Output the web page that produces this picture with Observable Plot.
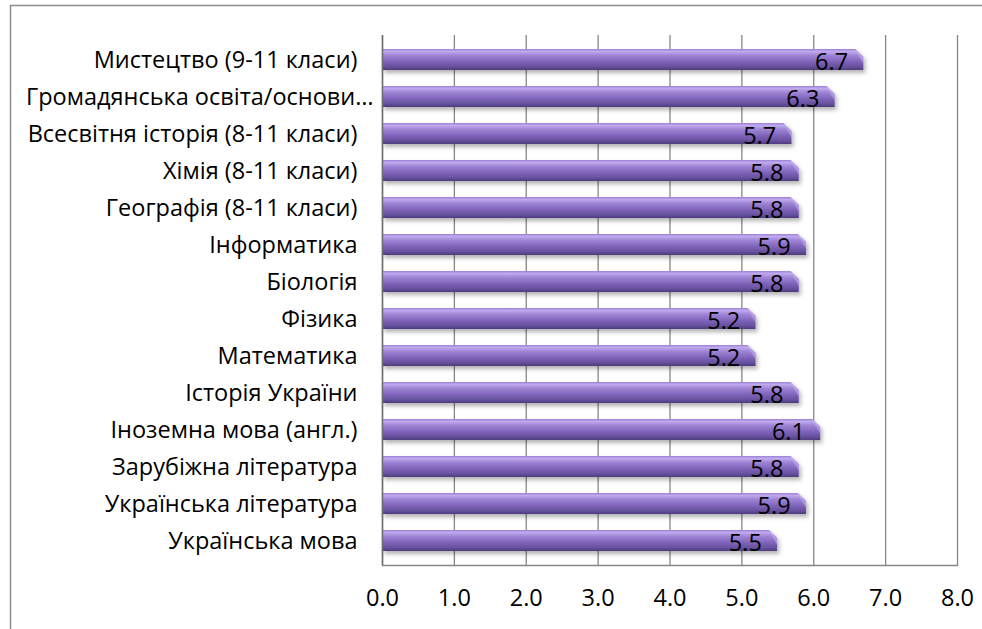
<!DOCTYPE html>
<html>
<head>
<meta charset="utf-8">
<script src="https://cdn.jsdelivr.net/npm/d3@7"></script>
<script src="https://cdn.jsdelivr.net/npm/@observablehq/plot@0.6"></script>
<style>
  html, body { margin: 0; padding: 0; background: #fff; }
  #chart { width: 982px; height: 629px; }
</style>
</head>
<body>
<div id="chart"></div>
<script>
const subjects = [
  "Мистецтво (9-11 класи)",
  "Громадянська освіта/основи…",
  "Всесвітня історія (8-11 класи)",
  "Хімія (8-11 класи)",
  "Географія (8-11 класи)",
  "Інформатика",
  "Біологія",
  "Фізика",
  "Математика",
  "Історія України",
  "Іноземна мова (англ.)",
  "Зарубіжна література",
  "Українська література",
  "Українська мова"
];
const scores = [6.7, 6.3, 5.7, 5.8, 5.8, 5.9, 5.8, 5.2, 5.2, 5.8, 6.1, 5.8, 5.9, 5.5];
const xTicks = [0, 1, 2, 3, 4, 5, 6, 7, 8];

const data = subjects.map((s, i) => ({subject: s, value: scores[i]}));
const truncated = subjects.filter(s => s.endsWith("…"));
const regular = subjects.filter(s => !s.endsWith("…"));
const font = "'Open Sans', sans-serif";
const fs = 23.5;
const capW = 0.15;

const chart = Plot.plot({
  width: 982,
  height: 629,
  marginLeft: 382,
  marginRight: 25,
  marginTop: 35,
  marginBottom: 64,
  style: {fontFamily: font, fontSize: fs + "px", color: "#000", background: "#fff"},
  x: {domain: [0, 8], ticks: xTicks, tickFormat: d => d.toFixed(1), label: null},
  y: {domain: subjects, paddingInner: 0.42, paddingOuter: 0.21, label: null},
  marks: [
    Plot.ruleX(xTicks, {x: d => d, stroke: "#878787", strokeWidth: 1.3}),
    Plot.frame({anchor: "bottom", stroke: "#878787", strokeWidth: 1.3}),
    Plot.barX(data, {y: "subject", x1: 0, x2: d => d.value - capW, fill: "url(#barGrad)", className: "bar-body"}),
    Plot.barX(data, {y: "subject", x1: d => d.value - capW - 0.01, x2: "value", fill: "url(#barGrad)", className: "bar-cap"}),
    Plot.barX(data, {y: "subject", x1: d => d.value - capW - 0.01, x2: "value", fill: "#c4b0f0", fillOpacity: 0.55, className: "bar-face"}),
    Plot.text(data, {y: "subject", x: "value", text: d => d.value.toFixed(1), textAnchor: "end", dx: -16, dy: 2, fontSize: fs, fill: "#000"}),
    Plot.axisX({ticks: xTicks, tickFormat: d => d.toFixed(1), tickSize: 0, tickPadding: 24, fontSize: fs, fill: "#000"}),
    Plot.axisY({ticks: regular, tickSize: 0, tickPadding: 25, fontSize: fs, fill: "#000"}),
    Plot.axisY({ticks: truncated, tickSize: 0, tickPadding: 9, fontSize: fs, fill: "#000"}),
    Plot.ruleX([0], {stroke: "#6e6e6e", strokeWidth: 1.5})
  ]
});

document.getElementById("chart").appendChild(chart);

const svg = d3.select(chart);
const defs = svg.insert("defs", ":first-child");
const g = defs.append("linearGradient").attr("id", "barGrad").attr("x1", 0).attr("y1", 0).attr("x2", 0).attr("y2", 1);
[[0, "#9c82d4"], [0.12, "#c0a9ee"], [0.3, "#9f85d6"], [0.6, "#7f64ba"], [0.85, "#66509c"], [1, "#4e3b7e"]]
  .forEach(([o, c]) => g.append("stop").attr("offset", o).attr("stop-color", c));
defs.append("clipPath").attr("id", "capClip").attr("clipPathUnits", "objectBoundingBox")
  .append("polygon").attr("points", "0,0 0.3,0 1,0.38 1,1 0,1");
defs.append("clipPath").attr("id", "faceClip").attr("clipPathUnits", "objectBoundingBox")
  .append("polygon").attr("points", "0.22,0 0.3,0 1,0.38 1,0.72");
const f = defs.append("filter").attr("id", "shadow").attr("x", "-5%").attr("y", "-5%").attr("width", "110%").attr("height", "110%");
f.append("feDropShadow").attr("dx", 2).attr("dy", 3).attr("stdDeviation", 2).attr("flood-color", "#000").attr("flood-opacity", 0.3);

svg.selectAll(".bar-cap rect").attr("clip-path", "url(#capClip)");
svg.selectAll(".bar-face rect").attr("clip-path", "url(#faceClip)");

const body = svg.select(".bar-body").node();
const wrap = svg.insert("g", () => body).attr("filter", "url(#shadow)");
wrap.node().appendChild(body);
wrap.node().appendChild(svg.select(".bar-cap").node());
const face = svg.select(".bar-face").node();
wrap.node().parentNode.insertBefore(face, wrap.node().nextSibling);

svg.insert("rect", "defs + *")
  .attr("x", 10.5).attr("y", 5.5).attr("width", 990).attr("height", 640)
  .attr("fill", "none").attr("stroke", "#8c8c8c").attr("stroke-width", 1.5);
</script>
</body>
</html>
